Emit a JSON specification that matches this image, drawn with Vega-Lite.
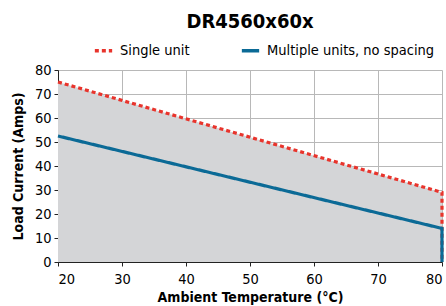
{
  "$schema": "https://vega.github.io/schema/vega-lite/v6.json",
  "autosize": "none",
  "width": 384,
  "height": 192,
  "padding": {"left": 58, "top": 70, "right": 4, "bottom": 44},
  "background": "white",
  "title": {"text": "DR4560x60x", "fontSize": 20, "font": "DejaVu Sans Condensed, Roboto, sans-serif", "fontWeight": "bold", "anchor": "middle", "offset": 8, "color": "black"},
  "config": {
    "font": "DejaVu Sans Condensed, Roboto, sans-serif",
    "view": {"stroke": null},
    "axis": {"labelFontSize": 14.5, "labelColor": "black", "titleFontSize": 14, "titleColor": "black", "titleFontWeight": "bold", "gridColor": "#b8b8b8", "gridWidth": 1, "domainColor": "#222", "tickColor": "#222", "tickSize": 4}
  },
  "data": {"values": [
    {"series": "Single unit", "t": 20, "a": 75, "i": 1},
    {"series": "Single unit", "t": 80, "a": 29, "i": 2},
    {"series": "Single unit", "t": 80, "a": 0, "i": 3},
    {"series": "Multiple units, no spacing", "t": 20, "a": 52.5, "i": 1},
    {"series": "Multiple units, no spacing", "t": 80, "a": 14, "i": 2},
    {"series": "Multiple units, no spacing", "t": 80, "a": 0, "i": 3}
  ]},
  "encoding": {
    "x": {"field": "t", "type": "quantitative", "scale": {"domain": [20, 80], "nice": false}, "axis": {"values": [20,30,40,50,60,70,80], "title": "Ambient Temperature (°C)", "titlePadding": 5, "labelPadding": 6}},
    "y": {"field": "a", "type": "quantitative", "scale": {"domain": [0, 80], "nice": false}, "axis": {"values": [0,10,20,30,40,50,60,70,80], "title": "Load Current (Amps)", "titlePadding": 9, "labelPadding": 3}}
  },
  "layer": [
    {
      "transform": [{"filter": "datum.series === 'Single unit' && datum.i < 3"}],
      "mark": {"type": "area", "color": "#d4d5d7", "opacity": 1}
    },
    {
      "mark": {"type": "line", "strokeWidth": 3.2},
      "encoding": {
        "order": {"field": "i", "type": "quantitative"},
        "color": {"field": "series", "type": "nominal", "scale": {"domain": ["Single unit", "Multiple units, no spacing"], "range": ["#e8342c", "#0b6a96"]}, "legend": {"title": null, "orient": "none", "legendX": 35, "legendY": -30, "direction": "horizontal", "columns": 2, "columnPadding": 44, "labelFontSize": 14.5, "labelColor": "black", "symbolType": "stroke", "symbolSize": 300, "symbolStrokeWidth": 3.5, "labelLimit": 300, "labelOffset": 6}},
        "strokeDash": {"field": "series", "type": "nominal", "scale": {"domain": ["Single unit", "Multiple units, no spacing"], "range": [[4, 3], [1, 0]]}, "legend": null}
      }
    }
  ]
}
